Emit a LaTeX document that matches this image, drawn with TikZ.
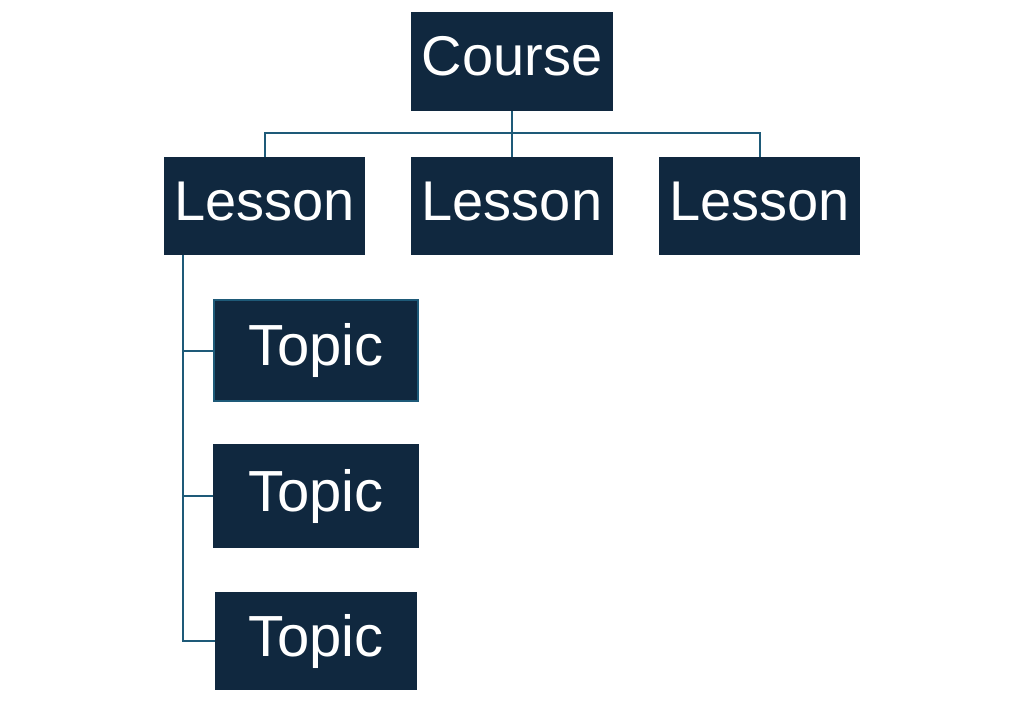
\documentclass[tikz,border=0pt]{standalone}
\usepackage{fontspec}
\setmainfont{Liberation Sans}
\definecolor{navy}{HTML}{10283F}
\definecolor{linec}{HTML}{1E5A78}
\begin{document}
\begin{tikzpicture}[x=1pt,y=-1pt,
  box/.style={fill=navy,text=white,inner sep=0pt,anchor=center,
    font=\fontsize{56}{60}\selectfont,text height=40pt,text depth=11pt},
  topicbox/.style={box,font=\fontsize{58}{62}\selectfont,text height=41.5pt,text depth=11.5pt},
  conn/.style={draw=linec,line width=2pt}]
\useasboundingbox (0,0) rectangle (1024,714);
\node[box,minimum width=202pt,minimum height=99pt] (C) at (512,61.5) {Course};
\node[box,minimum width=201pt,minimum height=98pt] (L1) at (264.5,206) {Lesson};
\node[box,minimum width=202pt,minimum height=98pt] (L2) at (512,206) {Lesson};
\node[box,minimum width=201pt,minimum height=98pt] (L3) at (759.5,206) {Lesson};
\node[topicbox,draw=linec,line width=1.5pt,minimum width=204pt,minimum height=101pt] (T1) at (316,350.5) {Topic};
\node[topicbox,minimum width=206pt,minimum height=104pt] (T2) at (316,496) {Topic};
\node[topicbox,minimum width=202pt,minimum height=98pt] (T3) at (316,641) {Topic};
\coordinate (bus) at (512,133);
\draw[conn] (C.south) -- (bus);
\draw[conn] (bus) -| (L1.north);
\draw[conn] (bus) -- (L2.north);
\draw[conn] (bus) -| (L3.north);
\coordinate (st) at ([xshift=19pt]L1.south west);
\draw[conn] (st) |- (T1.west);
\draw[conn] (st) |- (T2.west);
\draw[conn] (st) |- (T3.west);
\end{tikzpicture}
\end{document}
